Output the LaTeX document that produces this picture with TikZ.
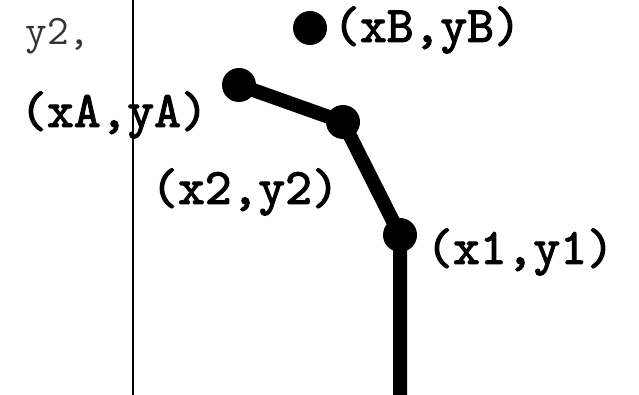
\documentclass[tikz,border=0pt]{standalone}
\usepackage{fontspec}
\newfontfamily\lblfont{lmmono10-regular}[Extension=.otf,FakeBold=2.2]
\begin{document}
\begin{tikzpicture}[x=1pt,y=-1pt,
  every node/.style={font=\lblfont\fontsize{51}{51}\selectfont},
  dot/.style={circle,fill=black,inner sep=0pt,minimum size=34pt},
  arm/.style={line width=14pt,line join=round}]
\useasboundingbox (0,0) rectangle (639,395);
% axis line
\coordinate (axtop) at (133,0);
\coordinate (axbot) at (133,395);
\draw[line width=1.5pt] (axtop) -- (axbot);
\node[font=\ttfamily\fontsize{42}{42}\selectfont,text=black!80] (lbly) at (58,36) {y2,};
% joints
\coordinate (base) at (400,395);
\node[dot] (pB) at (310,28) {};
\node[dot] (pA) at (239,85) {};
\node[dot] (p2) at (343,122) {};
\node[dot] (p1) at (400,235) {};
\draw[arm] (base) -- (p1.center) -- (p2.center) -- (pA.center);
% labels
\node (lblB) at (427,30) {(xB,yB)};
\node (lblA) at (114,115) {(xA,yA)};
\node (lbl2) at (245,192) {(x2,y2)};
\node (lbl1) at (520,252) {(x1,y1)};
\end{tikzpicture}
\end{document}
